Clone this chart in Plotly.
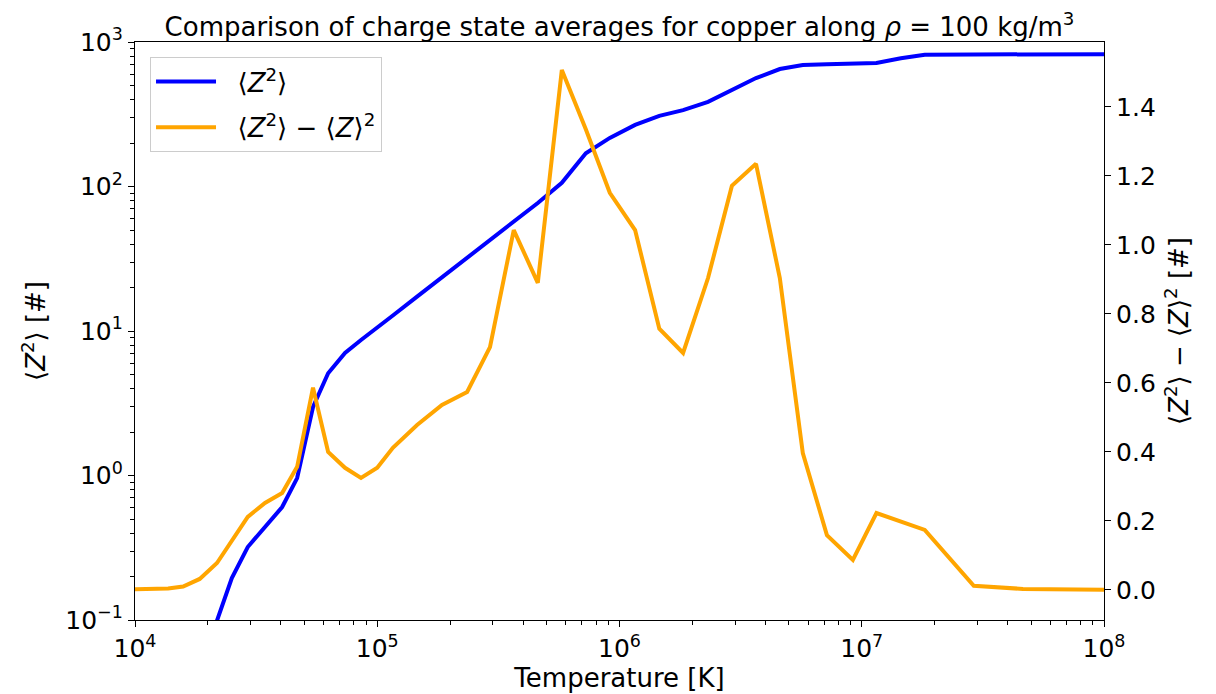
import plotly.graph_objects as go

# Temperature grid [K]
temperature = [1.0e4, 1.175e4, 1.37e4, 1.58e4, 1.85e4, 2.18e4, 2.51e4, 2.92e4, 3.44e4, 4.05e4,
               4.67e4, 5.43e4, 6.27e4, 7.36e4, 8.57e4, 1.0e5, 1.16e5, 1.46e5, 1.85e5, 2.35e5,
               2.92e5, 3.66e5, 4.60e5, 5.78e5, 7.26e5, 9.12e5, 1.16e6, 1.46e6, 1.83e6, 2.32e6,
               2.91e6, 3.66e6, 4.59e6, 5.71e6, 7.18e6, 9.19e6, 1.15e7, 1.45e7, 1.82e7, 2.90e7,
               4.63e7, 1.0e8]

# <Z^2>
z2_mean = [0.0004, 0.0015, 0.005, 0.015, 0.045, 0.097, 0.195, 0.32, 0.44, 0.605,
           0.96, 2.98, 5.1, 7.05, 8.67, 10.5, 12.8, 17.3, 23.5, 32.1,
           42.7, 57.0, 76.9, 106, 170, 217, 267, 308, 338, 385,
           466, 563, 650, 693, 702, 710, 716, 771, 817, 820,
           822, 823]

# <Z^2> - <Z>^2
z_variance = [0.002, 0.003, 0.004, 0.01, 0.032, 0.078, 0.145, 0.212, 0.252, 0.281,
              0.357, 0.586, 0.40, 0.354, 0.325, 0.354, 0.412, 0.478, 0.536, 0.574,
              0.704, 1.043, 0.89, 1.507, 1.335, 1.151, 1.043, 0.757, 0.687, 0.904,
              1.171, 1.235, 0.904, 0.397, 0.159, 0.087, 0.223, 0.199, 0.174, 0.012,
              0.003, 0.001]

x_tickvals = [1e4, 1e5, 1e6, 1e7, 1e8]
x_ticktext = ["10<sup>4</sup>", "10<sup>5</sup>", "10<sup>6</sup>", "10<sup>7</sup>", "10<sup>8</sup>"]
y_tickvals = [0.1, 1, 10, 100, 1000]
y_ticktext = ["10<sup>−1</sup>", "10<sup>0</sup>", "10<sup>1</sup>", "10<sup>2</sup>", "10<sup>3</sup>"]
y2_tickvals = [0.0, 0.2, 0.4, 0.6, 0.8, 1.0, 1.2, 1.4]

FONT = "DejaVu Sans"
TICK_SIZE = 25
LABEL_SIZE = 26
PAD = "\u00a0\u00a0"

fig = go.Figure()
fig.add_trace(go.Scatter(x=temperature, y=z2_mean, mode="lines",
                         line=dict(color="#0000ff", width=4), legendgroup="a",
                         name=PAD + "⟨<i>Z</i><sup>2</sup>⟩", yaxis="y"))
fig.add_trace(go.Scatter(x=temperature, y=z_variance, mode="lines",
                         line=dict(color="#ffa500", width=4), legendgroup="b",
                         name=PAD + "⟨<i>Z</i><sup>2</sup>⟩ − ⟨<i>Z</i>⟩<sup>2</sup>", yaxis="y2"))

axis_common = dict(showline=True, linecolor="black", linewidth=1.2, ticks="outside",
                   ticklen=6, tickwidth=1.2, tickcolor="black", showgrid=False, zeroline=False,
                   automargin=False,
                   tickfont=dict(family=FONT, size=TICK_SIZE, color="black"))

fig.update_layout(
    width=1216, height=694,
    margin=dict(l=127, r=120, t=34, b=82),
    paper_bgcolor="white", plot_bgcolor="white",
    font=dict(family=FONT, size=LABEL_SIZE, color="black"),
    title=dict(text="Comparison of charge state averages for copper along <i>ρ</i> = 100 kg/m<sup>3</sup>",
               xref="paper", x=0.5, xanchor="center", y=0.973, yanchor="middle",
               font=dict(family=FONT, size=LABEL_SIZE, color="black")),
    xaxis=dict(type="log", range=[4, 8], tickvals=x_tickvals, ticktext=x_ticktext,
               mirror=True,
               minor=dict(ticks="outside", ticklen=3.5, tickwidth=1, tickcolor="black", dtick="D1"),
               title=dict(text="Temperature [K]", standoff=6, font=dict(family=FONT, size=LABEL_SIZE)),
               **axis_common),
    yaxis=dict(type="log", range=[-1, 3], tickvals=y_tickvals, ticktext=y_ticktext,
               minor=dict(ticks="outside", ticklen=3.5, tickwidth=1, tickcolor="black", dtick="D1"),
               title=dict(text="⟨<i>Z</i><sup>2</sup>⟩ [#]", standoff=12, font=dict(family=FONT, size=LABEL_SIZE)),
               **axis_common),
    yaxis2=dict(overlaying="y", side="right", range=[-0.087, 1.588], tickvals=y2_tickvals,
                tickformat=".1f", anchor="x",
                title=dict(text="⟨<i>Z</i><sup>2</sup>⟩ − ⟨<i>Z</i>⟩<sup>2</sup> [#]", standoff=14,
                           font=dict(family=FONT, size=LABEL_SIZE)),
                **axis_common),
    legend=dict(x=0.0155, y=0.974, xanchor="left", yanchor="top",
                bgcolor="rgba(255,255,255,0.8)", bordercolor="#cccccc", borderwidth=1,
                itemwidth=60, tracegroupgap=9,
                font=dict(family=FONT, size=LABEL_SIZE, color="black")),
    showlegend=True,
)

fig.write_html("out.html")
